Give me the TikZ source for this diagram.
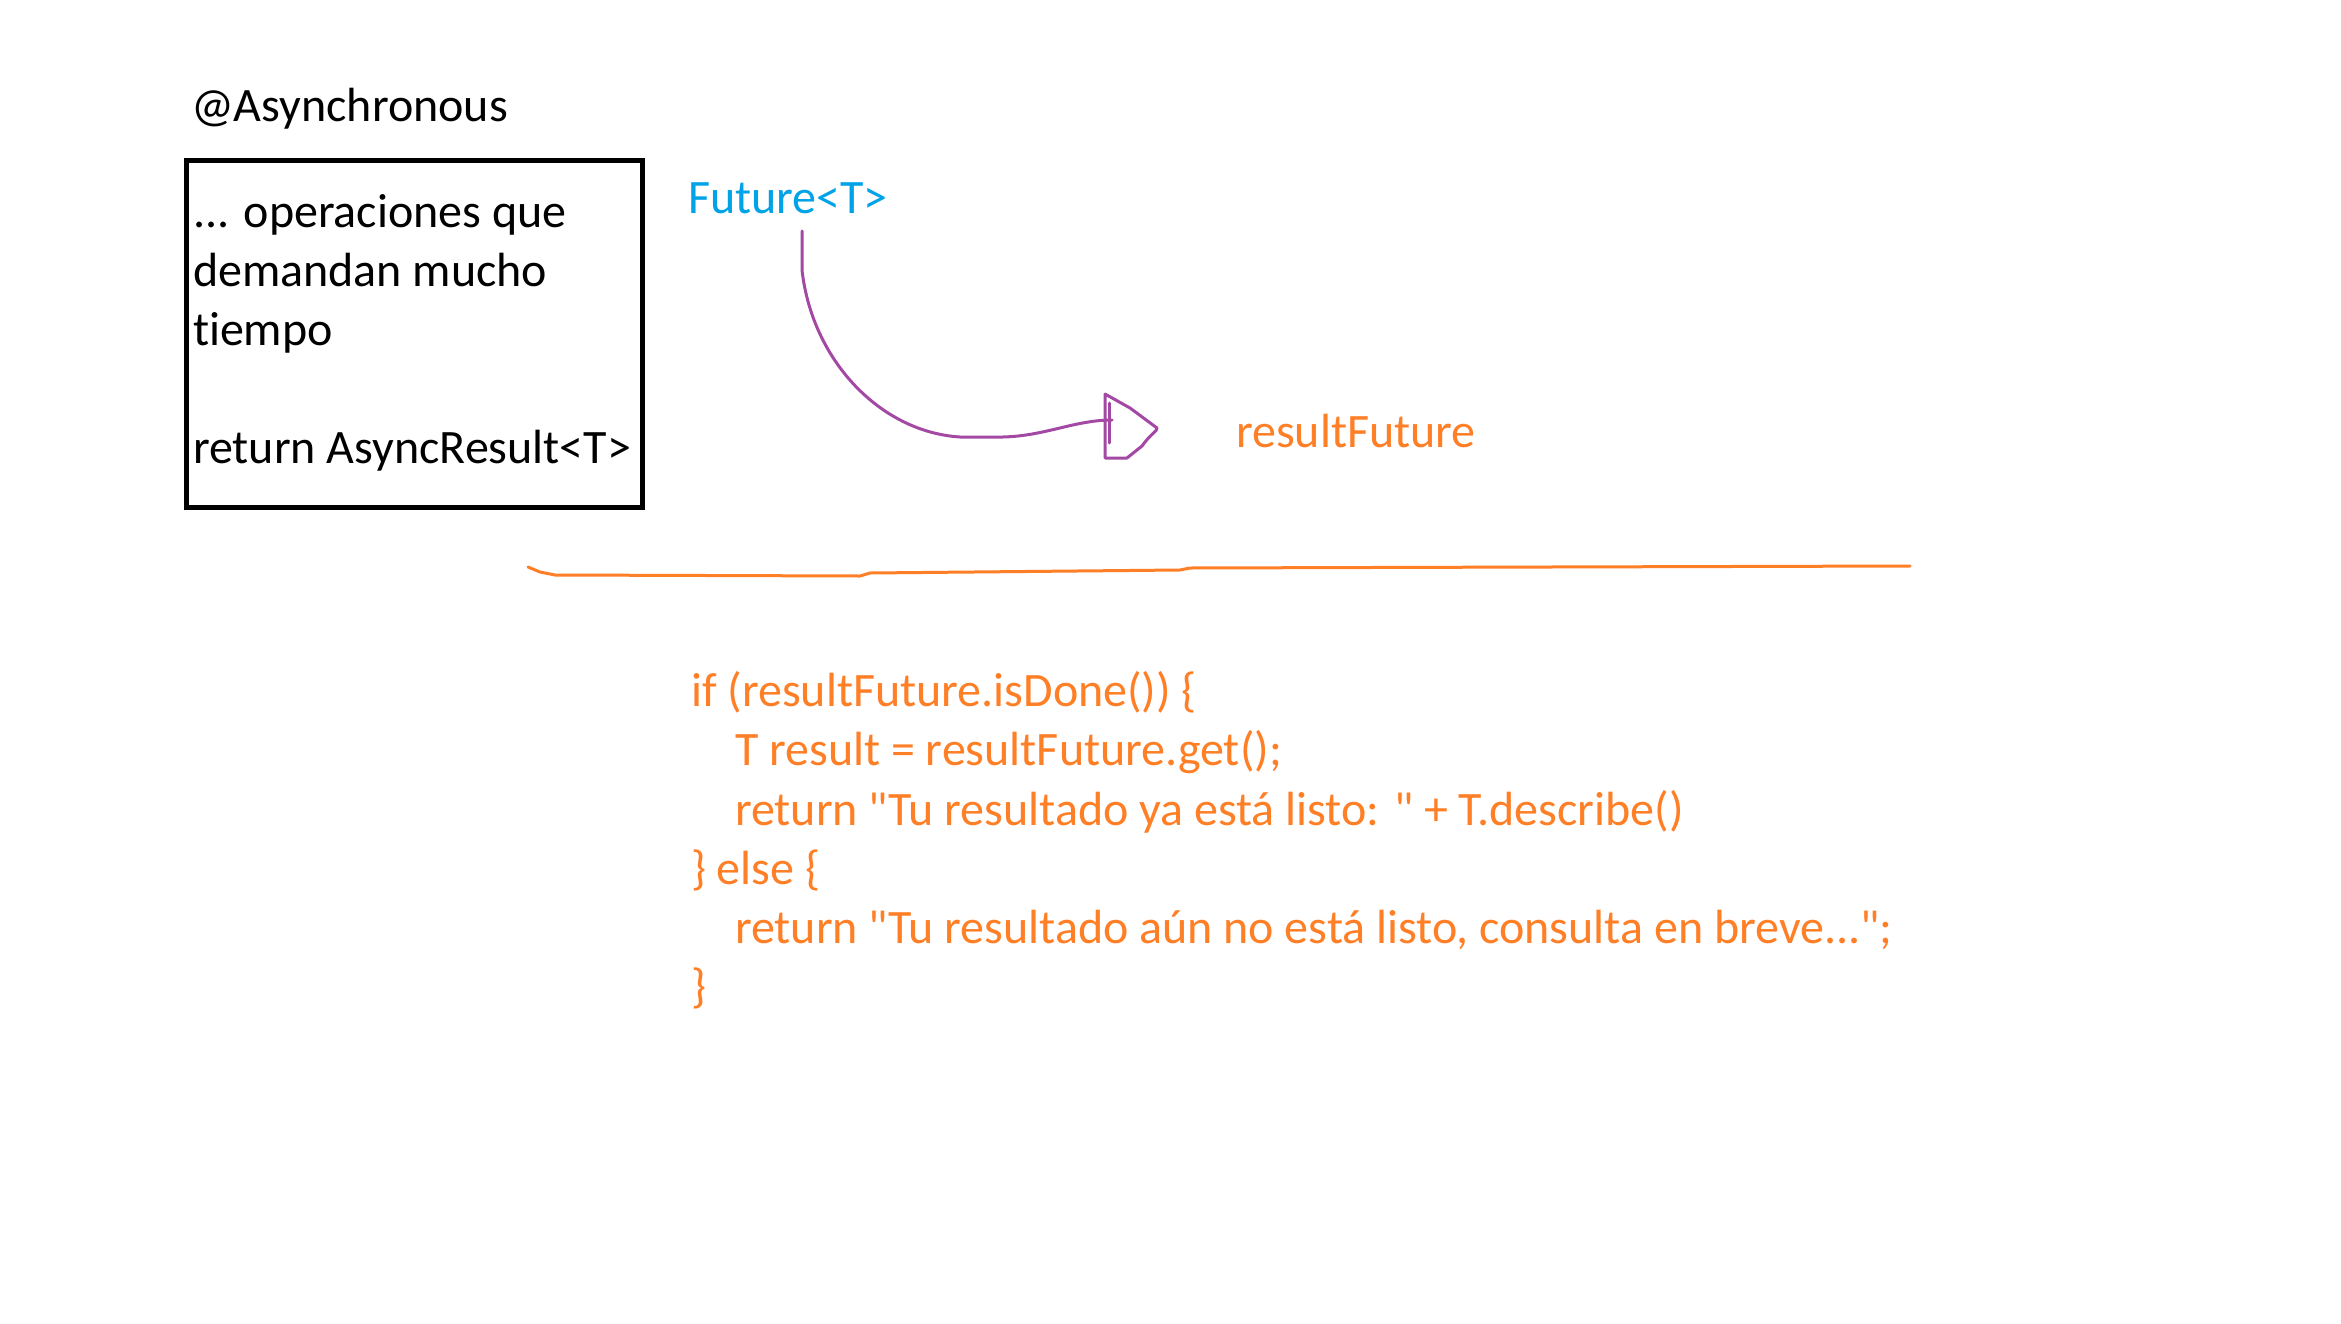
\documentclass[tikz,border=0pt]{standalone}
\usepackage{fontspec}
\newfontfamily\carlito{Carlito}[Ligatures=NoCommon]
\definecolor{paintorange}{HTML}{FF7F27}
\definecolor{paintpurple}{HTML}{A349A4}
\definecolor{paintblue}{HTML}{00A2E8}
\begin{document}
\begin{tikzpicture}[x=0.3pt,y=-0.3pt,
  txt/.style={anchor=base west,inner sep=0pt,outer sep=0pt,font=\carlito\fontsize{14.4}{17.7}\selectfont},
  blk/.style={txt,text=black},
  org/.style={txt,text=paintorange},
  stroke/.style={line width=0.9pt,line cap=round,line join=round}]
\useasboundingbox[fill=white] (0,0) rectangle (2341,1323);
% title
\node[blk] (title) at (191,122) {@Asynchronous};
% box
\node[draw,line width=1.4pt,minimum width=136.9pt,minimum height=104.0pt,inner sep=0pt] (opbox) at (414.5,334) {};
\node[blk] (l1) at (193,227) {... operaciones que};
\node[blk] (l2) at (193,286) {demandan mucho};
\node[blk] (l3) at (193,345) {tiempo};
\node[blk] (l4) at (193,463) {return AsyncResult<T>};
% future
\node[txt,text=paintblue] (fut) at (688,213) {Future<T>};
\node[org] (rf) at (1236,447) {resultFuture};
% purple arrow
\coordinate (a0) at (802,231);
\coordinate (a1) at (1112,420);
\draw[stroke,paintpurple] (a0) -- (802,270) .. controls (812,360) and (880,432) .. (960,437) -- (1003,437) .. controls (1045,436) and (1075,420) .. (a1);
\draw[stroke,paintpurple] (1105,394) -- (1105,458) -- (1127,458) -- (1142,446) .. controls (1152,432) and (1157,432) .. (1157,428) -- (1130,408) -- (1105,394);
\draw[stroke,paintpurple] (1109,403) -- (1109,443);
% orange separator
\coordinate (s0) at (528,567);
\coordinate (s1) at (1910,566);
\draw[stroke,paintorange] (s0) -- (540,572) -- (555,575) -- (860,576) -- (870,573) -- (1180,570) -- (1190,568) -- (s1);
% code
\node[org] (c1) at (691,706) {if (resultFuture.isDone()) \{};
\node[org] (c2) at (735,765) {T result = resultFuture.get();};
\node[org] (c3) at (735,825) {return "Tu resultado ya está listo: " + T.describe()};
\node[org] (c4) at (691,884) {\} else \{};
\node[org] (c5) at (735,943) {return "Tu resultado aún no está listo, consulta en breve...";};
\node[org] (c6) at (691,1002) {\}};
\end{tikzpicture}
\end{document}
